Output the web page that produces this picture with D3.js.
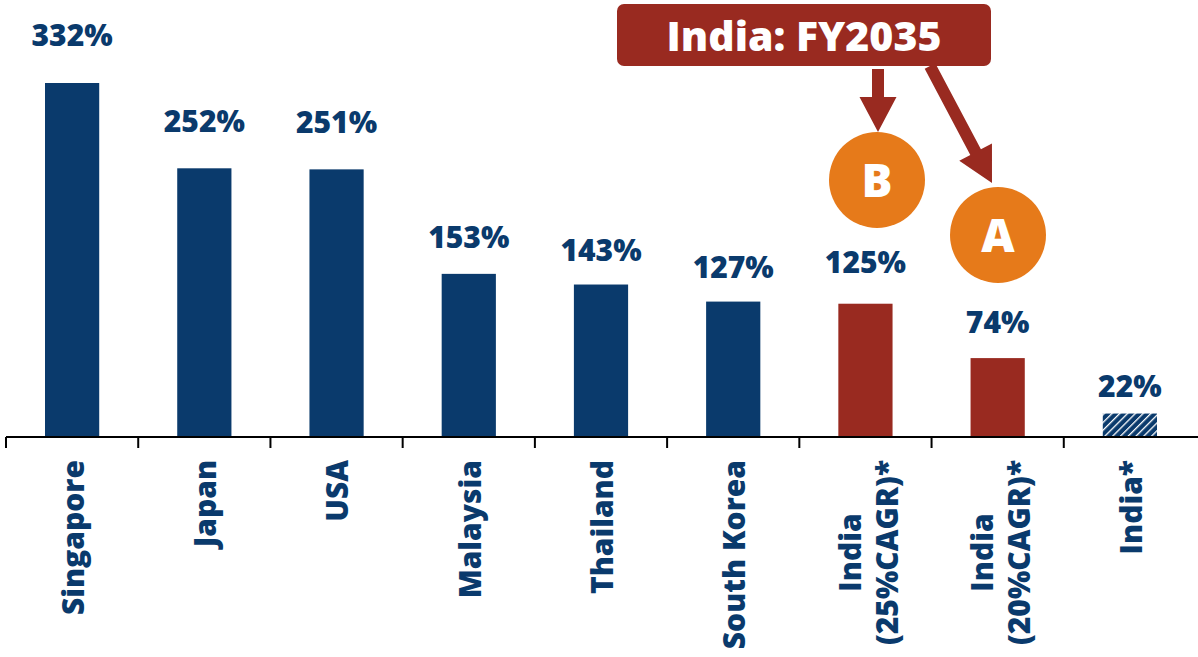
<!DOCTYPE html>
<html>
<head>
<meta charset="utf-8">
<script src="https://cdn.jsdelivr.net/npm/d3@7"></script>
<style>
  body { margin: 0; background: #fff; }
  svg { display: block; font-family: "Open Sans", sans-serif; }
</style>
</head>
<body>
<script>
// categories and values (% of GDP)
const categories = ["Singapore", "Japan", "USA", "Malaysia", "Thailand", "South Korea",
  "India (25%CAGR)*", "India (20%CAGR)*", "India*"]
const labelLines = [["Singapore"], ["Japan"], ["USA"], ["Malaysia"], ["Thailand"], ["South Korea"],
  ["India", "(25%CAGR)*"], ["India", "(20%CAGR)*"], ["India*"]]
const values = [332, 252, 251, 153, 143, 127, 125, 74, 22]
const kinds = ["peer", "peer", "peer", "peer", "peer", "peer", "proj", "proj", "now"]

const width = 1198
const height = 657
const baseY = 437
// gap between value label baseline and bar top (labels were placed by hand in the original)
const labelGap = [37, 36.5, 36.5, 25.5, 24, 24, 30.5, 25.5, 17]

const navy = "#0a3a6c"
const red = "#992a20"
const orange = "#e67a1a"

const svg = d3.select("body").append("svg")
  .attr("width", width)
  .attr("height", height)

// hatch for current India
const defs = svg.append("defs")
const pat = defs.append("pattern")
  .attr("id", "hatch")
  .attr("patternUnits", "userSpaceOnUse")
  .attr("width", 5.5)
  .attr("height", 5.5)
  .attr("patternTransform", "rotate(45)")
pat.append("rect").attr("width", 5.5).attr("height", 5.5).attr("fill", navy)
pat.append("line").attr("x1", 0).attr("y1", 0).attr("x2", 0).attr("y2", 5.5)
  .attr("stroke", "#fff").attr("stroke-width", 2.6)

var x = d3.scaleBand()
  .domain(categories)
  .range([6, 1196])
  .paddingInner(0.59)
  .paddingOuter(0.295)

var y = d3.scaleLinear()
  .domain([0, 332])
  .range([baseY, 83])

const fillFor = k => k == "peer" ? navy : (k == "proj" ? red : "url(#hatch)")

svg.selectAll("rect.bar")
  .data(categories)
  .enter()
  .append("rect")
  .attr("class", "bar")
  .attr("x", d => x(d))
  .attr("width", x.bandwidth())
  .attr("y", (d, i) => y(values[i]))
  .attr("height", (d, i) => baseY - y(values[i]))
  .attr("fill", (d, i) => fillFor(kinds[i]))

// value labels
svg.selectAll("text.val")
  .data(categories)
  .enter()
  .append("text")
  .attr("class", "val")
  .attr("x", d => x(d) + x.bandwidth() / 2)
  .attr("y", (d, i) => y(values[i]) - labelGap[i])
  .attr("text-anchor", "middle")
  .attr("fill", navy)
  .style("font-size", "30px")
  .style("font-weight", 800)
  .text((d, i) => values[i] + "%")

// axis line + ticks at category boundaries
const axis = svg.append("g")
axis.append("line")
  .attr("x1", 6).attr("x2", width)
  .attr("y1", baseY).attr("y2", baseY)
  .attr("stroke", "#000").attr("stroke-width", 2)
d3.range(categories.length).forEach(i => {
  const bx = 6 + i * x.step()
  axis.append("line")
    .attr("x1", bx).attr("x2", bx)
    .attr("y1", baseY).attr("y2", baseY + 11)
    .attr("stroke", "#000").attr("stroke-width", 2)
})

// rotated category labels
const lineH = 37
categories.forEach((c, i) => {
  const lines = labelLines[i]
  const cx = x(c) + x.bandwidth() / 2
  if (lines.length == 1) {
    svg.append("text")
      .attr("transform", "translate(" + (cx + 1) + ",460) rotate(-90)")
      .attr("text-anchor", "end")
      .attr("dy", "0.36em")
      .attr("fill", navy)
      .style("font-size", "30px")
      .style("font-weight", 800)
      .text(lines[0])
  } else {
    const g = svg.append("g")
    const texts = lines.map((l, j) => g.append("text")
      .attr("text-anchor", "middle")
      .attr("dy", "0.36em")
      .attr("fill", navy)
      .style("font-size", "30px")
      .style("font-weight", 800)
      .text(l))
    const maxLen = d3.max(texts, t => t.node().getComputedTextLength())
    const midY = 460 + maxLen / 2
    texts.forEach((t, j) => {
      const lx = cx + 3 + (j - (lines.length - 1) / 2) * lineH
      t.attr("transform", "translate(" + lx + "," + midY + ") rotate(-90)")
    })
  }
})

// callout
const note = svg.append("g")
note.append("rect")
  .attr("x", 617).attr("y", 4)
  .attr("width", 374).attr("height", 62)
  .attr("rx", 7)
  .attr("fill", red)
note.append("text")
  .attr("x", 804).attr("y", 51)
  .attr("text-anchor", "middle")
  .attr("fill", "#fff")
  .style("font-size", "41px")
  .style("font-weight", 800)
  .text("India: FY2035")

function arrow(x0, y0, x1, y1) {
  const dx = x1 - x0, dy = y1 - y0
  const len = Math.sqrt(dx * dx + dy * dy)
  const ux = dx / len, uy = dy / len
  const px = -uy, py = ux
  const sw = 6, hw = 18.5, hl = 35
  const bx = x1 - ux * hl, by = y1 - uy * hl
  const pts = [
    [x0 + px * sw, y0 + py * sw],
    [bx + px * sw, by + py * sw],
    [bx + px * hw, by + py * hw],
    [x1, y1],
    [bx - px * hw, by - py * hw],
    [bx - px * sw, by - py * sw],
    [x0 - px * sw, y0 - py * sw]
  ]
  svg.append("polygon")
    .attr("points", pts.map(p => p.join(",")).join(" "))
    .attr("fill", red)
}
arrow(878, 69, 878, 132)
arrow(930, 66, 992, 183)

const badges = [["B", 877, 180], ["A", 998, 235]]
badges.forEach(b => {
  svg.append("circle")
    .attr("cx", b[1]).attr("cy", b[2]).attr("r", 48)
    .attr("fill", orange)
  svg.append("text")
    .attr("x", b[1]).attr("y", b[2])
    .attr("dy", "0.36em")
    .attr("text-anchor", "middle")
    .attr("fill", "#fff")
    .style("font-size", "46px")
    .style("font-weight", 800)
    .text(b[0])
})
</script>
</body>
</html>
